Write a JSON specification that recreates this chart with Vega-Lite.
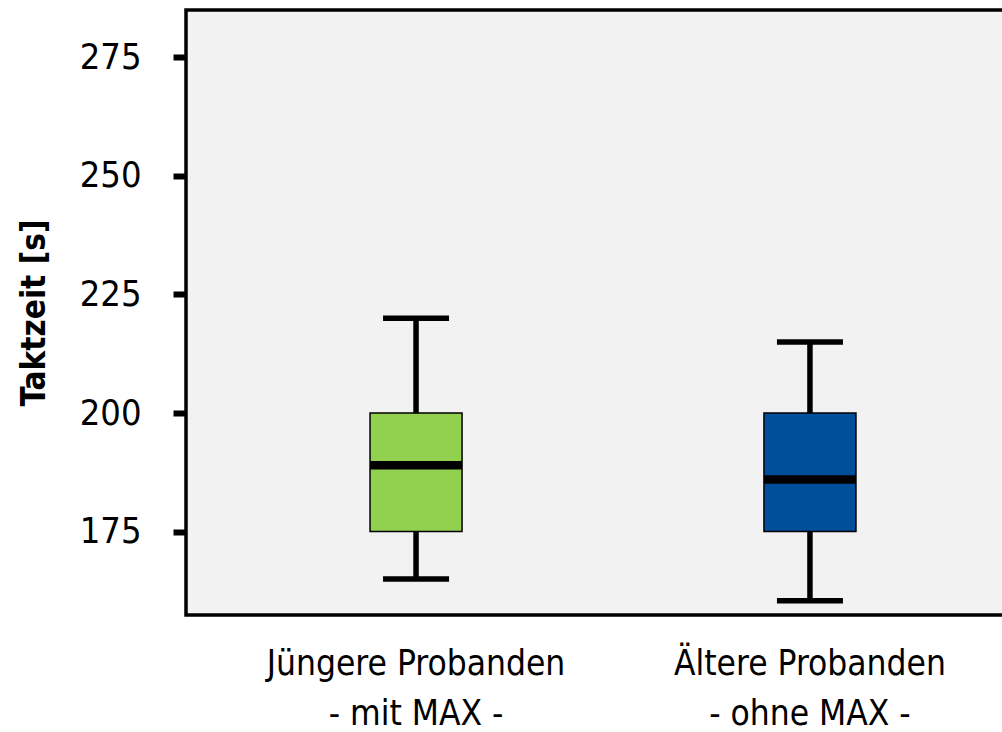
{
  "$schema": "https://vega.github.io/schema/vega-lite/v6.json",
  "autosize": {"type": "none"},
  "padding": {"left": 186, "top": 10, "right": 0, "bottom": 117},
  "width": 854,
  "height": 605,
  "config": {
    "view": {"fill": "#f2f2f2", "stroke": "black", "strokeWidth": 3.5},
    "font": "DejaVu Sans Condensed, sans-serif"
  },
  "data": {
    "values": [
      {"gruppe": "Jüngere Probanden|- mit MAX -", "lower": 165, "q1": 175, "median": 189, "q3": 200, "upper": 220, "farbe": "#92d050"},
      {"gruppe": "Ältere Probanden|- ohne MAX -", "lower": 160.4, "q1": 175, "median": 186, "q3": 200, "upper": 215, "farbe": "#004f9b"}
    ]
  },
  "encoding": {
    "x": {
      "field": "gruppe", "type": "nominal", "sort": null,
      "scale": {"type": "band", "paddingInner": 0, "paddingOuter": 0.084},
      "axis": {
        "title": null, "labelAngle": 0, "ticks": false, "domain": false, "labelLimit": 0,
        "labelFontSize": 35, "labelColor": "black", "labelPadding": 31,
        "labelLineHeight": 50, "labelExpr": "split(datum.label, '|')"
      }
    }
  },
  "layer": [
    {
      "mark": {"type": "rule", "color": "black", "strokeWidth": 5.5, "opacity": 1},
      "encoding": {
        "y": {
          "field": "lower", "type": "quantitative",
          "scale": {"domain": [157.4, 285], "nice": false, "zero": false},
          "axis": {
            "title": "Taktzeit [s]", "values": [175, 200, 225, 250, 275], "grid": false, "domain": false,
            "tickColor": "black", "tickWidth": 6, "tickSize": 13, "labelLimit": 0,
            "labelFontSize": 36, "labelColor": "black", "labelPadding": 32,
            "titleFontSize": 33, "titleFontWeight": "bold", "titleColor": "black", "titlePadding": 28
          }
        },
        "y2": {"field": "upper"}
      }
    },
    {
      "mark": {"type": "tick", "color": "black", "size": 66, "thickness": 5.5, "opacity": 1},
      "encoding": {"y": {"field": "lower", "type": "quantitative"}}
    },
    {
      "mark": {"type": "tick", "color": "black", "size": 66, "thickness": 5.5, "opacity": 1},
      "encoding": {"y": {"field": "upper", "type": "quantitative"}}
    },
    {
      "mark": {"type": "bar", "size": 92, "stroke": "black", "strokeWidth": 1.5, "opacity": 1},
      "encoding": {
        "y": {"field": "q1", "type": "quantitative"},
        "y2": {"field": "q3"},
        "fill": {"field": "farbe", "type": "nominal", "scale": null}
      }
    },
    {
      "mark": {"type": "tick", "color": "black", "size": 92, "thickness": 8.5, "opacity": 1},
      "encoding": {"y": {"field": "median", "type": "quantitative"}}
    }
  ]
}
